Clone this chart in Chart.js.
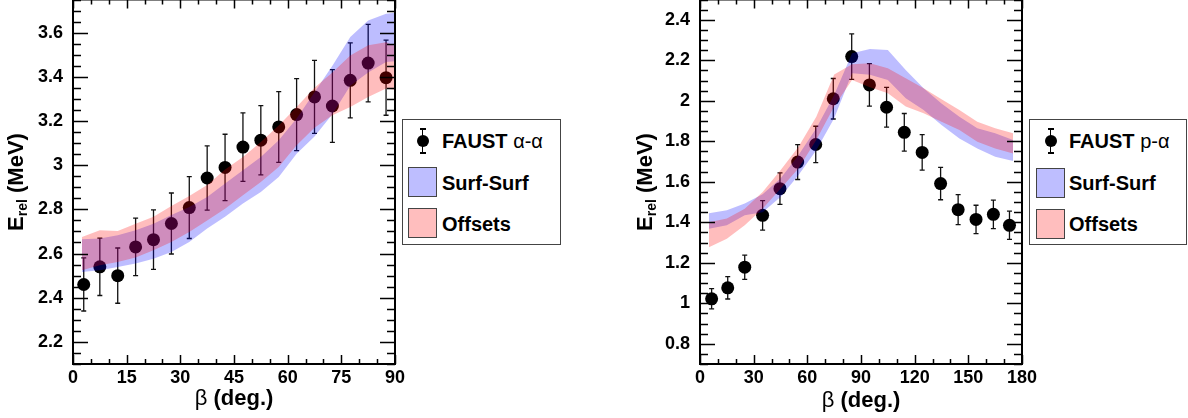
<!DOCTYPE html>
<html>
<head>
<meta charset="utf-8">
<script src="https://cdn.jsdelivr.net/npm/chart.js@4.4.1/dist/chart.umd.min.js"></script>
<style>
  body { margin: 0; width: 1188px; height: 418px; overflow: hidden; position: relative; background: #fff;
         font-family: "Liberation Sans", Arial, sans-serif; color: #000; }
  canvas { position: absolute; }
  .ytitle { position: absolute; width: 200px; height: 26px; line-height: 26px; text-align: center;
            font-weight: bold; font-size: 22px; white-space: nowrap; transform: rotate(-90deg); }
  .ytitle sub { font-size: 14px; vertical-align: baseline; position: relative; top: 4px; }
  .xtitle { position: absolute; width: 200px; text-align: center; font-size: 22px; white-space: nowrap; }
  .xtitle b { font-weight: bold; }
  .leg { position: absolute; border: 1px solid #444; background: #fff; z-index: 2; }
  .leg .txt { position: absolute; font-size: 20px; font-weight: bold; line-height: 22px; white-space: nowrap; }
  .leg .txt span { font-weight: normal; }
  .leg .sw { position: absolute; width: 27px; height: 28px; border: 1px solid #444; }
  .leg .bar { position: absolute; width: 1.5px; height: 25px; background: #000; }
  .leg .cap { position: absolute; width: 6px; height: 1.5px; background: #000; }
  .leg .dot { position: absolute; width: 12px; height: 12px; border-radius: 50%; background: #000; }
</style>
</head>
<body>
<canvas id="chartAA" width="415" height="425" style="left:0px;top:-7px"></canvas>
<canvas id="chartPA" width="420" height="425" style="left:620px;top:-7px"></canvas>

<div class="ytitle" style="left:-84px;top:169px">E<sub>rel</sub> (MeV)</div>
<div class="ytitle" style="left:545px;top:169px">E<sub>rel</sub> (MeV)</div>
<div class="xtitle" style="left:134px;top:385px">β <b>(deg.)</b></div>
<div class="xtitle" style="left:761px;top:387px">β <b>(deg.)</b></div>

<div class="leg" style="left:402px;top:119px;width:157px;height:124px">
  <div class="bar" style="left:18.5px;top:8px"></div>
  <div class="cap" style="left:16.5px;top:8px"></div>
  <div class="cap" style="left:16.5px;top:32px"></div>
  <div class="dot" style="left:13.5px;top:14.5px"></div>
  <div class="txt" style="left:39px;top:10px">FAUST <span>α-α</span></div>
  <div class="sw" style="left:5px;top:47px;background:#bebeff"></div>
  <div class="txt" style="left:39px;top:52px">Surf-Surf</div>
  <div class="sw" style="left:5px;top:88px;background:#ffbebe"></div>
  <div class="txt" style="left:39px;top:93px">Offsets</div>
</div>
<div class="leg" style="left:1029px;top:119px;width:156px;height:124px">
  <div class="bar" style="left:19.5px;top:8px"></div>
  <div class="cap" style="left:17.5px;top:8px"></div>
  <div class="cap" style="left:17.5px;top:32px"></div>
  <div class="dot" style="left:14.5px;top:14.5px"></div>
  <div class="txt" style="left:39px;top:10px">FAUST <span>p-α</span></div>
  <div class="sw" style="left:6px;top:48px;background:#bebeff"></div>
  <div class="txt" style="left:39px;top:52px">Surf-Surf</div>
  <div class="sw" style="left:6px;top:89px;background:#ffbebe"></div>
  <div class="txt" style="left:39px;top:93px">Offsets</div>
</div>

<script>
// alpha-alpha panel (left)
const angAA = [3, 7.5, 12.5, 17.5, 22.5, 27.5, 32.5, 37.5, 42.5, 47.5, 52.5, 57.5, 62.5, 67.5, 72.5, 77.5, 82.5, 87.5];
const eRelAA = [2.46, 2.54, 2.50, 2.63, 2.663, 2.736, 2.808, 2.942, 2.99, 3.082, 3.113, 3.173, 3.229, 3.309, 3.268, 3.384, 3.462, 3.396];
const errAA = [0.12, 0.13, 0.125, 0.13, 0.135, 0.138, 0.14, 0.145, 0.15, 0.155, 0.157, 0.16, 0.163, 0.165, 0.165, 0.17, 0.175, 0.17];
const bandAngAA = [2.5, 7.5, 12.5, 17.5, 22.5, 27.5, 32.5, 37.5, 42.5, 47.5, 52.5, 57.5, 62.5, 67.5, 72.5, 77.5, 82.5, 87.5, 90];
const surfHiAA = [2.665, 2.668, 2.683, 2.705, 2.735, 2.775, 2.811, 2.856, 2.917, 2.977, 3.037, 3.113, 3.211, 3.33, 3.45, 3.58, 3.655, 3.685, 3.69];
const surfLoAA = [2.517, 2.524, 2.539, 2.555, 2.577, 2.607, 2.652, 2.713, 2.766, 2.826, 2.879, 2.947, 3.052, 3.13, 3.23, 3.36, 3.42, 3.467, 3.47];
const offHiAA = [2.675, 2.705, 2.702, 2.735, 2.766, 2.815, 2.86, 2.91, 2.98, 3.037, 3.105, 3.18, 3.263, 3.35, 3.42, 3.497, 3.543, 3.557, 3.54];
const offLoAA = [2.524, 2.547, 2.562, 2.582, 2.615, 2.652, 2.698, 2.75, 2.803, 2.864, 2.924, 2.992, 3.09, 3.17, 3.226, 3.263, 3.309, 3.347, 3.34];
const xTicksAA = [0, 15, 30, 45, 60, 75, 90];
const yTicksAA = [2.2, 2.4, 2.6, 2.8, 3, 3.2, 3.4, 3.6];

// p-alpha panel (right)
const angPA = [6.5, 15.5, 25, 35, 44.7, 54.6, 64.7, 74.5, 84.8, 94.7, 104.3, 114.2, 124.2, 134.5, 144.3, 154.3, 164, 173];
const eRelPA = [1.022, 1.076, 1.178, 1.434, 1.566, 1.697, 1.784, 2.01, 2.218, 2.078, 1.968, 1.844, 1.745, 1.591, 1.462, 1.414, 1.439, 1.385];
const errPA = [0.05, 0.055, 0.06, 0.073, 0.078, 0.086, 0.09, 0.1, 0.112, 0.105, 0.098, 0.093, 0.088, 0.08, 0.074, 0.07, 0.07, 0.07];
const bandAngPA = [5, 15, 25, 35, 45, 55, 65, 75, 85, 95, 105, 115, 125, 135, 145, 155, 165, 175];
const surfHiPA = [1.445, 1.459, 1.492, 1.538, 1.616, 1.731, 1.864, 2.029, 2.235, 2.255, 2.251, 2.152, 2.062, 1.987, 1.921, 1.864, 1.839, 1.806];
const surfLoPA = [1.368, 1.385, 1.434, 1.45, 1.525, 1.632, 1.756, 1.913, 2.136, 2.128, 2.103, 2.012, 1.954, 1.88, 1.814, 1.764, 1.723, 1.703];
const offHiPA = [1.40, 1.418, 1.467, 1.55, 1.657, 1.772, 1.921, 2.13, 2.18, 2.185, 2.16, 2.111, 2.062, 2.007, 1.954, 1.896, 1.864, 1.839];
const offLoPA = [1.277, 1.319, 1.385, 1.467, 1.566, 1.665, 1.806, 1.971, 2.103, 2.067, 2.037, 1.971, 1.938, 1.896, 1.855, 1.797, 1.764, 1.74];
const xTicksPA = [0, 30, 60, 90, 120, 150, 180];
const yTicksPA = [0.8, 1, 1.2, 1.4, 1.6, 1.8, 2, 2.2, 2.4];

const tickFont = { family: '"Liberation Sans", Arial, sans-serif', size: 18, weight: 'bold' };

function pts(xs, ys) {
  return xs.map((x, i) => ({ x: x, y: ys[i] }));
}

// error bars under the markers, and ROOT-like frame with inward ticks on all four sides
const rootFrame = {
  id: 'rootFrame',
  beforeDatasetsDraw(chart, args, opts) {
    const ctx = chart.ctx, xs = chart.scales.x, ys = chart.scales.y;
    ctx.save();
    ctx.strokeStyle = '#111';
    ctx.lineWidth = 1.3;
    opts.ang.forEach((a, i) => {
      const x = xs.getPixelForValue(a);
      const y1 = ys.getPixelForValue(opts.val[i] + opts.err[i]);
      const y2 = ys.getPixelForValue(opts.val[i] - opts.err[i]);
      ctx.beginPath();
      ctx.moveTo(x, y1); ctx.lineTo(x, y2);
      ctx.moveTo(x - 2.5, y1); ctx.lineTo(x + 2.5, y1);
      ctx.moveTo(x - 2.5, y2); ctx.lineTo(x + 2.5, y2);
      ctx.stroke();
    });
    ctx.restore();
  },
  afterDraw(chart, args, opts) {
    const ctx = chart.ctx, a = chart.chartArea, xs = chart.scales.x, ys = chart.scales.y;
    ctx.save();
    ctx.strokeStyle = '#000';
    ctx.lineWidth = 1.5;
    ctx.beginPath();
    // y ticks
    const k0 = Math.ceil(ys.min / opts.yStep - 1e-6), k1 = Math.floor(ys.max / opts.yStep + 1e-6);
    for (let k = k0; k <= k1; k++) {
      const v = k * opts.yStep;
      const major = opts.yTicks.some(t => Math.abs(t - v) < 1e-6);
      const len = major ? 15 : 8;
      const y = Math.round(ys.getPixelForValue(v)) + 0.5;
      ctx.moveTo(a.left, y); ctx.lineTo(a.left + len, y);
      ctx.moveTo(a.right, y); ctx.lineTo(a.right - len, y);
    }
    // x ticks
    const j0 = Math.ceil(xs.min / opts.xStep - 1e-6), j1 = Math.floor(xs.max / opts.xStep + 1e-6);
    for (let j = j0; j <= j1; j++) {
      const v = j * opts.xStep;
      const major = opts.xTicks.some(t => Math.abs(t - v) < 1e-6);
      const len = major ? 9 : 5;
      const x = Math.round(xs.getPixelForValue(v)) + 0.5;
      ctx.moveTo(x, a.bottom); ctx.lineTo(x, a.bottom - len);
      ctx.moveTo(x, a.top); ctx.lineTo(x, a.top + len);
    }
    ctx.stroke();
    ctx.lineWidth = 2;
    ctx.strokeRect(a.left, a.top, a.right - a.left, a.bottom - a.top);
    ctx.restore();
  }
};

function makeChart(id, d) {
  return new Chart(document.getElementById(id), {
    type: 'line',
    data: {
      datasets: [
        { label: 'Offsets', data: pts(d.bandAng, d.offHi), fill: '+1', backgroundColor: 'rgba(255,0,0,0.26)',
          borderColor: 'transparent', borderWidth: 0, pointRadius: 0, tension: 0 },
        { label: 'Offsets lo', data: pts(d.bandAng, d.offLo), fill: false,
          borderColor: 'transparent', borderWidth: 0, pointRadius: 0, tension: 0 },
        { label: 'Surf-Surf', data: pts(d.bandAng, d.surfHi), fill: '+1', backgroundColor: 'rgba(0,0,255,0.26)',
          borderColor: 'transparent', borderWidth: 0, pointRadius: 0, tension: 0 },
        { label: 'Surf-Surf lo', data: pts(d.bandAng, d.surfLo), fill: false,
          borderColor: 'transparent', borderWidth: 0, pointRadius: 0, tension: 0 },
        { label: 'FAUST', data: pts(d.ang, d.val), showLine: false, pointRadius: 6.5,
          pointBackgroundColor: '#000', pointBorderWidth: 0 }
      ]
    },
    options: {
      responsive: false,
      animation: false,
      devicePixelRatio: 1,
      layout: { padding: { top: 0, right: d.padRight, left: 0, bottom: 0 } },
      plugins: {
        legend: { display: false },
        tooltip: { enabled: false },
        rootFrame: { ang: d.ang, val: d.val, err: d.err, xTicks: d.xTicks, yTicks: d.yTicks, xStep: d.xStep, yStep: 0.05 }
      },
      scales: {
        x: {
          type: 'linear', min: d.xMin, max: d.xMax,
          grid: { display: false, drawTicks: false }, border: { display: false },
          afterBuildTicks: s => { s.ticks = d.xTicks.map(v => ({ value: v })); },
          afterFit: s => { s.height = 54; s.paddingLeft = 0; s.paddingRight = 0; },
          ticks: { font: tickFont, color: '#000', padding: 3, maxRotation: 0, autoSkip: false }
        },
        y: {
          type: 'linear', min: d.yMin, max: d.yMax,
          grid: { display: false, drawTicks: false }, border: { display: false },
          afterBuildTicks: s => { s.ticks = d.yTicks.map(v => ({ value: v })); },
          afterFit: s => { s.width = d.yWidth; s.paddingTop = 0; s.paddingBottom = 0; },
          ticks: { font: tickFont, color: '#000', padding: 10, autoSkip: false,
                   callback: v => String(+v.toFixed(2)) }
        }
      }
    },
    plugins: [rootFrame]
  });
}

makeChart('chartAA', {
  ang: angAA, val: eRelAA, err: errAA,
  bandAng: bandAngAA, surfHi: surfHiAA, surfLo: surfLoAA, offHi: offHiAA, offLo: offLoAA,
  xTicks: xTicksAA, yTicks: yTicksAA, xStep: 5,
  xMin: 0, xMax: 90, yMin: 2.1, yMax: 3.75, yWidth: 73, padRight: 20
});

makeChart('chartPA', {
  ang: angPA, val: eRelPA, err: errPA,
  bandAng: bandAngPA, surfHi: surfHiPA, surfLo: surfLoPA, offHi: offHiPA, offLo: offLoPA,
  xTicks: xTicksPA, yTicks: yTicksPA, xStep: 10,
  xMin: 0, xMax: 180, yMin: 0.7, yMax: 2.5, yWidth: 80, padRight: 18
});
</script>
</body>
</html>
